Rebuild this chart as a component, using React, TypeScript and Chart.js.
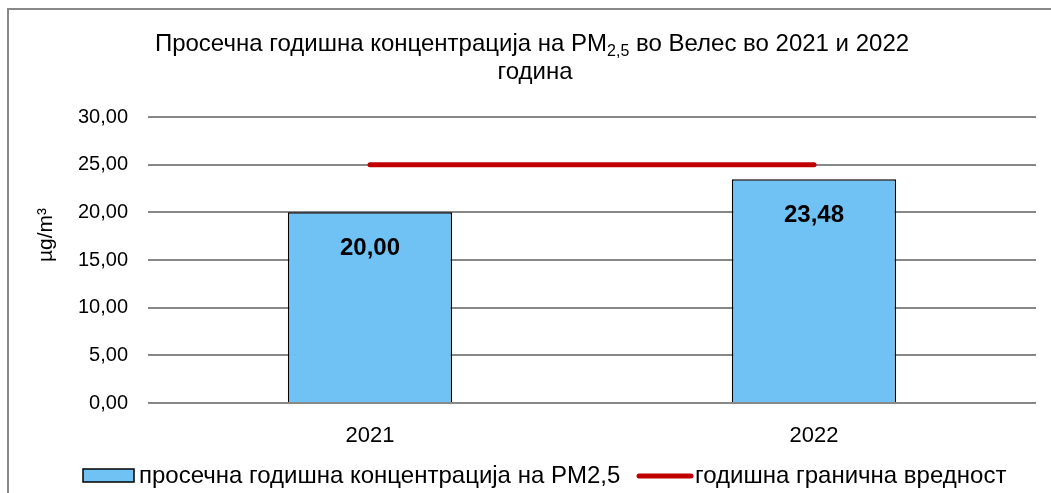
import React, { useEffect, useRef } from "react";
import { Chart, registerables } from "chart.js";

Chart.register(...registerables);

const categories = ["2021", "2022"];
const concentration = [20.0, 23.48];
const limitValue = [25, 25];
const barLabel = "просечна годишна концентрација на PM2,5";
const lineLabel = "годишна гранична вредност";
const titleMain = "Просечна годишна концентрација на PM";
const titleSub = "2,5";
const titleRest = " во Велес во 2021 и 2022";
const titleLine2 = "година";
const yTitle = "µg/m³";
const yMin = 0;
const yMax = 30;
const yStep = 5;

const FONT = "'Liberation Sans', Arial, sans-serif";
const BAR_COLOR = "#70C2F4";
const RED = "#C00000";
const GRID = "#888888";

const fmt = (v: number) => v.toFixed(2).replace(".", ",");

const decorPlugin = {
  id: "decor",
  afterDraw(chart: any) {
    const ctx = chart.ctx as CanvasRenderingContext2D;
    ctx.save();
    // frame
    ctx.strokeStyle = GRID;
    ctx.lineWidth = 2;
    ctx.beginPath();
    ctx.moveTo(8, 493);
    ctx.lineTo(8, 9);
    ctx.lineTo(1051, 9);
    ctx.stroke();

    // title
    ctx.fillStyle = "#000";
    ctx.textBaseline = "alphabetic";
    ctx.textAlign = "left";
    const big = `24px ${FONT}`;
    const small = `16px ${FONT}`;
    ctx.font = big;
    const w1 = ctx.measureText(titleMain).width;
    const w3 = ctx.measureText(titleRest).width;
    ctx.font = small;
    const w2 = ctx.measureText(titleSub).width;
    const total = w1 + w2 + w3;
    let x = 532 - total / 2;
    const base = 51;
    ctx.font = big;
    ctx.fillText(titleMain, x, base);
    x += w1;
    ctx.font = small;
    ctx.fillText(titleSub, x, base + 5);
    x += w2;
    ctx.font = big;
    ctx.fillText(titleRest, x, base);
    ctx.textAlign = "center";
    ctx.fillText(titleLine2, 535, 79);

    // y title
    ctx.save();
    ctx.translate(46, 235);
    ctx.rotate(-Math.PI / 2);
    ctx.textAlign = "center";
    ctx.textBaseline = "middle";
    ctx.font = `21px ${FONT}`;
    ctx.fillText(yTitle, 0, 0);
    ctx.restore();

    // data labels
    const meta = chart.getDatasetMeta(0);
    ctx.font = `bold 24px ${FONT}`;
    ctx.textAlign = "center";
    ctx.textBaseline = "middle";
    meta.data.forEach((el: any, i: number) => {
      ctx.fillText(fmt(concentration[i]), el.x, el.y + 36);
    });

    // legend
    const ly = 476;
    ctx.fillStyle = BAR_COLOR;
    ctx.fillRect(83, 469, 51, 13);
    ctx.strokeStyle = "#000";
    ctx.lineWidth = 1.5;
    ctx.strokeRect(83, 469, 51, 13);
    ctx.fillStyle = "#000";
    ctx.font = `24px ${FONT}`;
    ctx.textAlign = "left";
    ctx.textBaseline = "middle";
    ctx.fillText(barLabel, 139, ly);
    ctx.strokeStyle = RED;
    ctx.lineWidth = 5;
    ctx.lineCap = "round";
    ctx.beginPath();
    ctx.moveTo(639, ly);
    ctx.lineTo(691, ly);
    ctx.stroke();
    ctx.fillText(lineLabel, 695, ly);
    ctx.restore();
  },
};

export default function App() {
  const ref = useRef<HTMLCanvasElement>(null);
  useEffect(() => {
    if (!ref.current) return;
    const chart = new Chart(ref.current, {
      type: "bar",
      data: {
        labels: categories,
        datasets: [
          {
            type: "bar",
            label: barLabel,
            data: concentration,
            backgroundColor: BAR_COLOR,
            borderColor: "#000",
            borderWidth: 1.5,
            barPercentage: 0.37,
            categoryPercentage: 1,
            order: 2,
          },
          {
            type: "line",
            label: lineLabel,
            data: limitValue,
            borderColor: RED,
            borderWidth: 5,
            pointRadius: 0,
            borderCapStyle: "round",
            order: 1,
          } as any,
        ],
      },
      options: {
        responsive: false,
        devicePixelRatio: 1,
        animation: false,
        layout: { padding: { top: 117, right: 15, left: 0, bottom: 0 } },
        plugins: { legend: { display: false }, title: { display: false }, tooltip: { enabled: false } },
        scales: {
          x: {
            grid: { display: false, drawTicks: false },
            border: { display: false },
            ticks: { font: { family: FONT, size: 22 }, color: "#000", padding: 20 },
            afterFit: (s: any) => {
              s.height = 90;
            },
          },
          y: {
            min: yMin,
            max: yMax,
            ticks: {
              stepSize: yStep,
              font: { family: FONT, size: 20 },
              color: "#000",
              padding: 20,
              callback: (v: any) => fmt(Number(v)),
            },
            grid: { color: GRID, lineWidth: 2, drawTicks: false },
            border: { display: false },
            afterFit: (s: any) => {
              s.width = 148;
            },
          },
        },
      },
      plugins: [decorPlugin],
    });
    return () => chart.destroy();
  }, []);
  return (
    <div style={{ position: "fixed", left: 0, top: 0, width: 1051, height: 493, background: "#fff" }}>
      <canvas ref={ref} width={1051} height={493} />
    </div>
  );
}
